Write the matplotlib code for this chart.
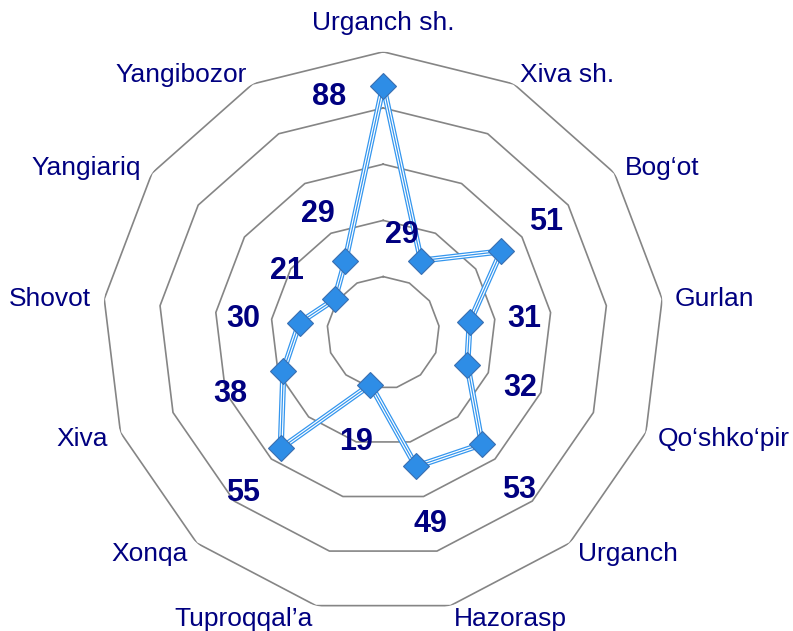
import numpy as np
import matplotlib
matplotlib.use("Agg")
import matplotlib.pyplot as plt

plt.rcParams['font.family'] = ['Liberation Sans', 'DejaVu Sans']

categories = ["Urganch sh.", "Xiva sh.", "Bog\u2018ot", "Gurlan", "Qo\u2018shko\u2018pir",
              "Urganch", "Hazorasp", "Tuproqqal\u2019a", "Xonqa", "Xiva", "Shovot",
              "Yangiariq", "Yangibozor"]
values = [88, 29, 51, 31, 32, 53, 49, 19, 55, 38, 30, 21, 29]
ring_levels = [20, 40, 60, 80, 100]

# data label offsets from the marker, in pixels (x right, y up)
label_offsets = [(-54, -9), (-19, 28), (45, 31), (55, 5), (53, -21), (37, -44),
                 (14, -56), (-14, -55), (-38, -43), (-53, -21), (-56, 6),
                 (-48, 30), (-27, 49)]

NAVY = "#000080"
BLUE = "#3496EE"
MARK = "#2E8DE6"
MARK_EDGE = "#3A6FB0"
GRID = "#858585"

W, H, DPI = 793, 631, 100
fig = plt.figure(figsize=(W / DPI, H / DPI), dpi=DPI)
cx, cy, R = 383.2, 332.8, 281.0
ax = fig.add_axes([(cx - R) / W, (H - cy - R) / H, 2 * R / W, 2 * R / H], projection='polar')
ax.set_theta_zero_location('N')
ax.set_theta_direction(-1)
ax.set_ylim(0, 100)
ax.grid(False)
ax.spines['polar'].set_visible(False)
ax.set_xticks([])
ax.set_yticks([])
ax.patch.set_alpha(0)

n = len(categories)
theta = np.arange(n) * 2 * np.pi / n
theta_c = np.append(theta, theta[0])

for lvl in ring_levels:
    ax.plot(theta_c, [lvl] * (n + 1), color=GRID, lw=1.2, zorder=1)

vals_c = np.append(values, values[0])
ax.plot(theta_c, vals_c, color=BLUE, lw=4.4, zorder=3, solid_joinstyle='miter')
ax.plot(theta_c, vals_c, color='white', lw=2.6, zorder=4, solid_joinstyle='miter')
ax.plot(theta_c, vals_c, color=BLUE, lw=0.9, zorder=5, solid_joinstyle='miter')
ax.plot(theta, values, linestyle='none', marker='D', markersize=13.3,
        markerfacecolor=MARK, markeredgecolor=MARK_EDGE, markeredgewidth=0.8, zorder=6)

for t, v, (dx, dy) in zip(theta, values, label_offsets):
    ax.annotate(str(v), xy=(t, v), xytext=(dx, dy - 2), textcoords='offset pixels',
                ha='center', va='center', fontsize=22, fontweight='bold',
                color=NAVY, zorder=7, annotation_clip=False)

for i, (t, lab) in enumerate(zip(theta, categories)):
    s, c = np.sin(t), np.cos(t)
    if abs(s) < 0.05:
        ha = 'center'
        dx, dy = 0, 29 if c > 0 else -27
    else:
        ha = 'left' if s > 0 else 'right'
        dx, dy = 13 * s, 12 * c - 2
    ax.annotate(lab, xy=(t, 100), xytext=(dx, dy), textcoords='offset pixels',
                ha=ha, va='center', fontsize=19, color=NAVY, annotation_clip=False)

fig.savefig("out.png", dpi=DPI, facecolor='white')
